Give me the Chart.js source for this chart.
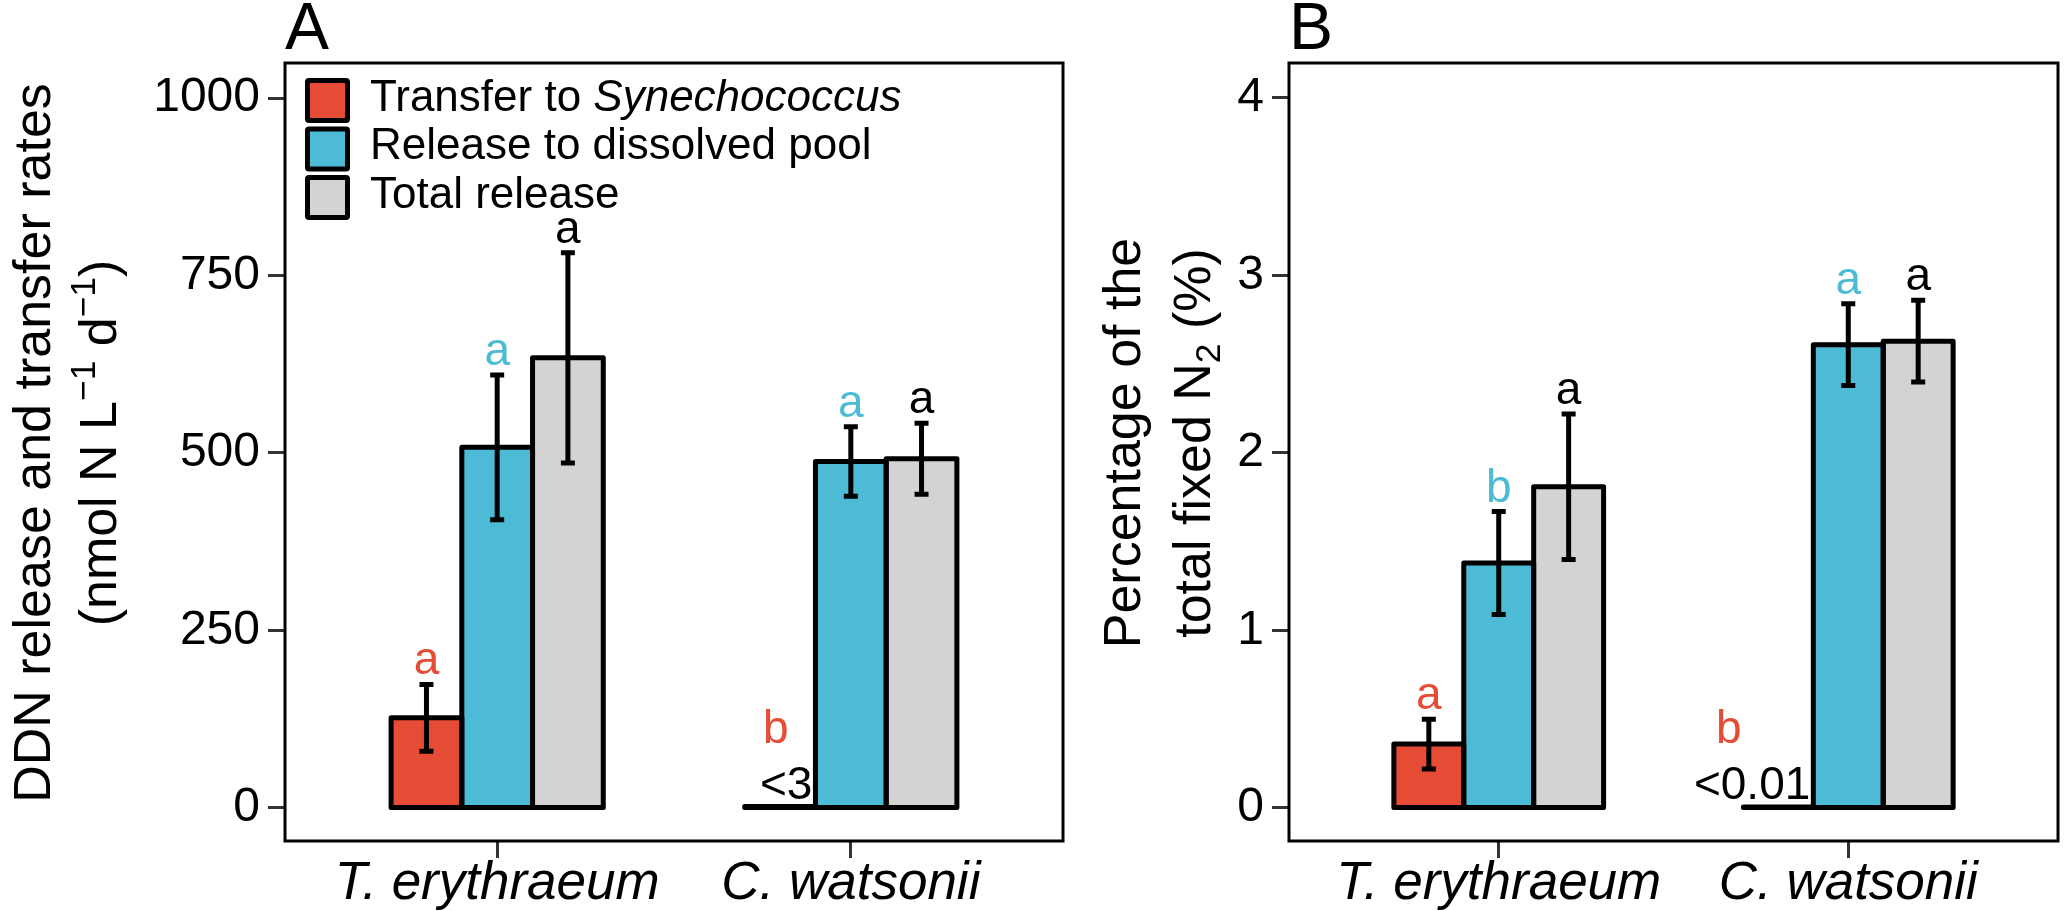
<!DOCTYPE html>
<html><head><meta charset="utf-8">
<script src="https://cdn.jsdelivr.net/npm/chart.js@4.4.0/dist/chart.umd.min.js"></script>
<style>
html,body{margin:0;padding:0;background:#fff;overflow:hidden;}
#wrap{position:relative;width:2065px;height:911px;background:#fff;}
canvas{position:absolute;top:0;}
#cA{left:0px;} #cB{left:1090px;}
</style></head><body>
<div id="wrap"><canvas id="cA" width="1090" height="911"></canvas><canvas id="cB" width="975" height="911"></canvas></div>
<script>
// ---------- data ----------
const categories = ['T. erythraeum', 'C. watsonii'];
const seriesNames = ['Transfer to Synechococcus', 'Release to dissolved pool', 'Total release'];
const legendItalicWord = 'Synechococcus';
const seriesColors = ['#E64B35', '#4DBBD5', '#D3D3D3'];
const letterColors = ['#E64B35', '#4DBBD5', '#000000'];

// Panel A: DDN release and transfer rates (nmol N L-1 d-1)
const transferA = [127, 2];
const transferAErr = [47, 0];
const releaseA = [508, 488];
const releaseAErr = [102, 49];
const totalA = [634, 492];
const totalAErr = [148, 50];
const lettersTransferA = ['a', 'b'];
const lettersReleaseA = ['a', 'a'];
const lettersTotalA = ['a', 'a'];
const notesTransferA = ['', '<3'];
const yTicksA = [0, 250, 500, 750, 1000];

// Panel B: percentage of the total fixed N2 (%)
const transferB = [0.36, 0.005];
const transferBErr = [0.14, 0];
const releaseB = [1.38, 2.61];
const releaseBErr = [0.29, 0.23];
const totalB = [1.81, 2.63];
const totalBErr = [0.41, 0.23];
const lettersTransferB = ['a', 'b'];
const lettersReleaseB = ['b', 'a'];
const lettersTotalB = ['a', 'a'];
const notesTransferB = ['', '<0.01'];
const yTicksB = [0, 1, 2, 3, 4];

// ---------- drawing helpers ----------
const FONT = "'Liberation Sans', Arial, Helvetica, sans-serif";
const TITLE_SIZE = 52;

function drawRotatedRich(ctx, segs, baseX, cy, size) {
  ctx.save();
  ctx.translate(baseX, cy);
  ctx.rotate(-Math.PI / 2);
  let total = 0;
  const items = segs.map(s => {
    const sz = s.s ? size * 0.68 : size;
    ctx.font = `${sz}px ${FONT}`;
    const w = ctx.measureText(s.t).width;
    total += w;
    return {t: s.t, s: s.s || 0, sz, w};
  });
  let x = -total / 2;
  ctx.textAlign = 'left';
  ctx.textBaseline = 'alphabetic';
  ctx.fillStyle = '#000';
  items.forEach(it => {
    ctx.font = `${it.sz}px ${FONT}`;
    const dy = it.s === 1 ? -size * 0.40 : (it.s === -1 ? size * 0.2 : 0);
    ctx.fillText(it.t, x, dy);
    x += it.w;
  });
  ctx.restore();
}

const panelPlugin = {
  id: 'panelDecor',
  afterDatasetsDraw(chart) {
    const ctx = chart.ctx;
    const ca = chart.chartArea;
    const ys = chart.scales.y;
    const y0 = ys.getPixelForValue(0);
    // bar outlines (centered strokes)
    chart.data.datasets.forEach((ds, i) => {
      chart.getDatasetMeta(i).data.forEach(bar => {
        const p = bar.getProps(['x', 'y', 'base', 'width'], true);
        ctx.save();
        ctx.strokeStyle = '#000';
        ctx.lineWidth = 5;
        ctx.lineJoin = 'round';
        const top = Math.min(p.y, p.base), h = Math.abs(p.base - p.y);
        ctx.strokeRect(p.x - p.width / 2, top, p.width, h);
        ctx.restore();
      });
    });
    // error bars
    chart.data.datasets.forEach((ds, i) => {
      chart.getDatasetMeta(i).data.forEach((bar, j) => {
        const e = ds.err[j];
        if (!e) return;
        const v = ds.data[j].y;
        const x = bar.x;
        const yt = ys.getPixelForValue(v + e), yb = ys.getPixelForValue(v - e);
        ctx.save();
        ctx.strokeStyle = '#000';
        ctx.lineWidth = 5;
        ctx.beginPath(); ctx.moveTo(x, yt); ctx.lineTo(x, yb); ctx.stroke();
        ctx.beginPath(); ctx.moveTo(x - 7, yt); ctx.lineTo(x + 7, yt);
        ctx.moveTo(x - 7, yb); ctx.lineTo(x + 7, yb); ctx.stroke();
        ctx.restore();
      });
    });
    // letters and notes
    chart.data.datasets.forEach((ds, i) => {
      chart.getDatasetMeta(i).data.forEach((bar, j) => {
        ctx.save();
        ctx.font = `46px ${FONT}`;
        ctx.textBaseline = 'alphabetic';
        let letterBase, letterX = bar.x;
        const note = ds.notes[j];
        if (note) {
          const right = bar.x + bar.width / 2 - 3;
          const w = ctx.measureText(note).width;
          ctx.textAlign = 'right';
          ctx.fillStyle = '#000';
          ctx.fillText(note, right, y0 - 9);
          letterBase = y0 - 65;
          letterX = right - w + 0.3 * w;
        } else {
          letterBase = ys.getPixelForValue(ds.data[j].y + ds.err[j]) - 10;
        }
        ctx.textAlign = 'center';
        ctx.fillStyle = letterColors[i];
        ctx.fillText(ds.letters[j], letterX, letterBase);
        ctx.restore();
      });
    });
    // panel frame
    ctx.save();
    ctx.strokeStyle = '#000';
    ctx.lineWidth = 3;
    ctx.strokeRect(ca.left, ca.top, ca.right - ca.left, ca.bottom - ca.top);
    ctx.restore();
  },
  afterDraw(chart) {
    const ctx = chart.ctx;
    const cfg = chart.options.plugins.panelDecor;
    const ca = chart.chartArea;
    const cy = (ca.top + ca.bottom) / 2 - 9;
    // axis title lines
    cfg.titleLines.forEach((segs, k) => {
      drawRotatedRich(ctx, segs, ca.left + cfg.titleOffsets[k], cy, TITLE_SIZE);
    });
    // panel letter
    ctx.save();
    ctx.font = `66px ${FONT}`;
    ctx.fillStyle = '#000';
    ctx.textAlign = 'left';
    ctx.textBaseline = 'alphabetic';
    ctx.fillText(cfg.panelLetter, ca.left, 49);
    ctx.restore();
    // legend
    if (cfg.legend) {
      const size = 45, step = 48.5;
      seriesNames.forEach((name, i) => {
        const left = ca.left + 20, top = ca.top + 15 + i * step;
        ctx.save();
        ctx.fillStyle = '#000';
        ctx.beginPath();
        if (ctx.roundRect) ctx.roundRect(left, top, size, size, 4); else ctx.rect(left, top, size, size);
        ctx.fill();
        ctx.fillStyle = seriesColors[i];
        ctx.fillRect(left + 5, top + 5, size - 10, size - 10);
        let x = ca.left + 85;
        const ty = top + size / 2 - 2;
        ctx.textBaseline = 'middle';
        ctx.textAlign = 'left';
        ctx.fillStyle = '#000';
        const idx = name.indexOf(legendItalicWord);
        const parts = idx >= 0 ? [[name.slice(0, idx), ''], [legendItalicWord, 'italic '], [name.slice(idx + legendItalicWord.length), '']] : [[name, '']];
        parts.forEach(([t, st]) => {
          if (!t) return;
          ctx.font = `${st}44px ${FONT}`;
          ctx.fillText(t, x, ty);
          x += ctx.measureText(t).width;
        });
        ctx.restore();
      });
    }
  }
};

function makePanel(id, p) {
  const datasets = p.series.map((vals, i) => ({
    label: seriesNames[i],
    data: vals.map((v, j) => ({x: j + 1, y: v})),
    err: p.errs[i],
    letters: p.letters[i],
    notes: p.notes[i],
    backgroundColor: seriesColors[i],
    borderWidth: 0,
    categoryPercentage: p.catPct,
    barPercentage: 1.0
  }));
  const gridOpts = {display: true, drawOnChartArea: false, drawTicks: true, tickLength: 17, tickWidth: 3, tickColor: '#333', offset: false};
  return new Chart(document.getElementById(id), {
    type: 'bar',
    data: {datasets},
    options: {
      responsive: false,
      animation: false,
      devicePixelRatio: 1,
      layout: {padding: {left: 0, top: 63, right: p.padRight, bottom: 0}},
      plugins: {
        legend: {display: false},
        tooltip: {enabled: false},
        panelDecor: {titleLines: p.titleLines, titleOffsets: p.titleOffsets, panelLetter: p.panelLetter, legend: p.legend}
      },
      scales: {
        x: {
          type: 'linear', min: p.xMin, max: p.xMax, offset: false,
          afterBuildTicks: s => { s.ticks = categories.map((c, i) => ({value: i + 1})); },
          afterFit: s => { s.height = 70; },
          grid: gridOpts,
          border: {display: false},
          ticks: {
            callback: v => categories[Math.round(v) - 1] || '',
            font: {family: FONT, size: 53, style: 'italic', lineHeight: 1},
            color: '#000', padding: 0, maxRotation: 0, minRotation: 0, autoSkip: false
          }
        },
        y: {
          type: 'linear', min: p.yMin, max: p.yMax,
          afterBuildTicks: s => { s.ticks = p.yTicks.map(v => ({value: v})); },
          afterFit: s => { s.width = p.yWidth; },
          grid: gridOpts,
          border: {display: false},
          ticks: {
            callback: v => String(v),
            font: {family: FONT, size: 48},
            color: '#000', padding: 8, autoSkip: false
          }
        }
      }
    },
    plugins: [panelPlugin]
  });
}

makePanel('cA', {
  series: [transferA, releaseA, totalA],
  errs: [transferAErr, releaseAErr, totalAErr],
  letters: [lettersTransferA, lettersReleaseA, lettersTotalA],
  notes: [notesTransferA, ['', ''], ['', '']],
  yTicks: yTicksA, yMin: -46.5, yMax: 1049.3,
  xMin: 0.4, xMax: 2.6, catPct: 0.6,
  yWidth: 285, padRight: 27,
  titleLines: [
    [{t: 'DDN release and transfer rates'}],
    [{t: '(nmol N L'}, {t: '\u22121', s: 1}, {t: ' d'}, {t: '\u22121', s: 1}, {t: ')'}]
  ],
  titleOffsets: [-235, -169],
  panelLetter: 'A',
  legend: true
});

makePanel('cB', {
  series: [transferB, releaseB, totalB],
  errs: [transferBErr, releaseBErr, totalBErr],
  letters: [lettersTransferB, lettersReleaseB, lettersTotalB],
  notes: [notesTransferB, ['', ''], ['', '']],
  yTicks: yTicksB, yMin: -0.186, yMax: 4.197,
  xMin: 0.4, xMax: 2.6, catPct: 0.6,
  yWidth: 199, padRight: 7,
  titleLines: [
    [{t: 'Percentage of the'}],
    [{t: 'total fixed N'}, {t: '2', s: -1}, {t: ' (%)'}]
  ],
  titleOffsets: [-149, -79],
  panelLetter: 'B',
  legend: false
});
</script>
</body></html>
